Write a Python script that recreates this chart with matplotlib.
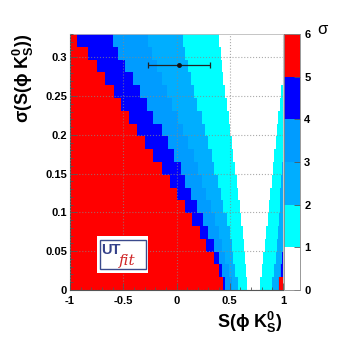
import numpy as np
import matplotlib
matplotlib.use('Agg')
import matplotlib.pyplot as plt
from matplotlib.colors import ListedColormap, BoundaryNorm
from matplotlib.patches import Rectangle
from matplotlib.ticker import MultipleLocator

plt.rcParams['font.family'] = ['Liberation Sans', 'DejaVu Sans']
plt.rcParams['mathtext.default'] = 'regular'

# sigma(S) bins (20 rows from 0 to 0.33), values read row by row from the top
sigma_edges = np.linspace(0, 0.33, 21)

# x where the significance drops below 5,4,3,2,1 sigma (left side), top row first
s5 = [-0.93, -0.83, -0.75, -0.67, -0.59, -0.52, -0.45, -0.37, -0.30, -0.22,
      -0.14, -0.06, 0.00, 0.08, 0.15, 0.22, 0.28, 0.35, 0.40, 0.44]
s4 = [-0.60, -0.55, -0.48, -0.41, -0.34, -0.28, -0.22, -0.14, -0.08, -0.02,
      0.04, 0.08, 0.14, 0.19, 0.25, 0.30, 0.35, 0.40, 0.43, 0.455]
s3 = [-0.27, -0.23, -0.18, -0.14, -0.09, -0.04, 0.01, 0.06, 0.11, 0.16,
      0.20, 0.24, 0.28, 0.32, 0.36, 0.40, 0.43, 0.46, 0.49, 0.52]
s2 = [0.06, 0.08, 0.11, 0.14, 0.16, 0.19, 0.24, 0.27, 0.30, 0.33,
      0.35, 0.39, 0.42, 0.44, 0.47, 0.50, 0.52, 0.53, 0.55, 0.58]
s1 = [0.40, 0.415, 0.425, 0.44, 0.455, 0.47, 0.495, 0.50, 0.52, 0.535,
      0.55, 0.565, 0.58, 0.595, 0.605, 0.62, 0.635, 0.645, 0.655, 0.66]
# x where it rises again above 1,2,3,4,5 sigma (right side)
r1 = [1.01, 1.01, 1.01, 1.01, 0.985, 0.97, 0.955, 0.94, 0.935, 0.915,
      0.905, 0.895, 0.88, 0.87, 0.855, 0.845, 0.83, 0.815, 0.80, 0.785]
r2 = [1.01, 1.01, 1.01, 1.01, 1.01, 1.01, 1.01, 1.01, 1.01, 1.01,
      0.99, 0.985, 0.975, 0.97, 0.96, 0.95, 0.94, 0.93, 0.915, 0.895]
r3 = [1.01, 1.01, 1.01, 1.01, 1.01, 1.01, 1.01, 1.01, 1.01, 1.01,
      1.01, 1.01, 1.01, 1.01, 1.01, 1.01, 1.01, 1.01, 0.975, 0.95]
r4 = [1.01, 1.01, 1.01, 1.01, 1.01, 1.01, 1.01, 1.01, 1.01, 1.01,
      1.01, 1.01, 1.01, 1.01, 1.01, 1.01, 1.01, 0.99, 0.98, 0.96]
r5 = [1.01, 1.01, 1.01, 1.01, 1.01, 1.01, 1.01, 1.01, 1.01, 1.01,
      1.01, 1.01, 1.01, 1.01, 1.01, 1.01, 1.01, 1.01, 1.01, 0.965]

# measurement
S_meas = 0.02
S_err = 0.29

level_colors = ['#FFFFFF', '#00FFFF', '#00AEFF', '#009CFF', '#0000FF', '#FF0000']

x_edges = np.linspace(-1, 1, 401)
xc = 0.5 * (x_edges[1:] + x_edges[:-1])
Z = np.zeros((20, len(xc)))
for i in range(20):
    lv = np.zeros(len(xc))
    for k, (l, r) in enumerate(zip([s1, s2, s3, s4, s5], [r1, r2, r3, r4, r5])):
        lv[xc < l[i]] = k + 1
        lv[xc > r[i]] = k + 1
    Z[19 - i] = lv + 0.5

cmap = ListedColormap(level_colors)
norm = BoundaryNorm(np.arange(7), cmap.N)

fig = plt.figure(figsize=(3.54, 3.42), dpi=100)
ax = fig.add_axes([70 / 354, 1 - 290 / 342, 213 / 354, 256 / 342])
cax = fig.add_axes([284 / 354, 1 - 290 / 342, 16 / 354, 256 / 342])

mesh = ax.pcolormesh(x_edges, sigma_edges, Z, cmap=cmap, norm=norm)
ax.set_xlim(-1, 1)
ax.set_ylim(0, 0.33)

ax.xaxis.set_minor_locator(MultipleLocator(0.1))
ax.yaxis.set_minor_locator(MultipleLocator(0.01))
ax.tick_params(which='both', direction='in', color='#555555', width=0.6)
ax.tick_params(which='major', length=5)
ax.tick_params(which='minor', length=2.5)
ax.tick_params(labelsize=8)
ax.set_xticks([-1, -0.5, 0, 0.5, 1])
ax.set_xticklabels(['-1', '-0.5', '0', '0.5', '1'], fontweight='bold')
ax.set_yticks([0, 0.05, 0.1, 0.15, 0.2, 0.25, 0.3])
ax.set_yticklabels(['0', '0.05', '0.1', '0.15', '0.2', '0.25', '0.3'], fontweight='bold')
ax.tick_params(axis='x', pad=4)
ax.tick_params(axis='y', pad=2)
ax.grid(True, which='major', color='#888888', linestyle=':', linewidth=0.8, alpha=0.7)
ax.set_axisbelow(False)
for side in ['top', 'right']:
    ax.spines[side].set_color('#bbbbbb')
    ax.spines[side].set_linewidth(0.6)
for side in ['left', 'bottom']:
    ax.spines[side].set_color('#555555')
    ax.spines[side].set_linewidth(0.8)

ax.errorbar(S_meas, S_err, xerr=S_err, fmt='o', ms=2.5, color='#111111',
            ecolor='#222222', elinewidth=0.9, capsize=2, capthick=0.9, zorder=5)

# UTfit logo
ax.add_patch(Rectangle((-0.75, 0.022), 0.485, 0.048, facecolor='white',
                       edgecolor='none', zorder=6))
ax.add_patch(Rectangle((-0.72, 0.027), 0.43, 0.037, facecolor='none',
                       edgecolor='#3b4a8c', linewidth=1.0, zorder=7))
ax.text(-0.71, 0.0515, 'UT', color='#34418a', fontsize=10.5, fontweight='bold',
        va='center', ha='left', zorder=8)
ax.text(-0.54, 0.0375, 'fit', color='#d0282a', fontsize=11, style='italic',
        family='DejaVu Serif', va='center', ha='left', zorder=8)

cb = fig.colorbar(mesh, cax=cax, ticks=range(7))
cb.outline.set_edgecolor('#888888')
cb.outline.set_linewidth(0.6)
cax.tick_params(direction='in', length=4, width=0.6, color='#555555', labelsize=8, pad=3)
for t in cax.get_yticklabels():
    t.set_fontweight('bold')
fig.text(317 / 354, 1 - 30 / 342, 'σ', fontsize=12, ha='left', va='center')

fig.text(283 / 354, 1 - 322 / 342, 'S(ϕ K$_S^0$)', fontsize=13, fontweight='bold',
         ha='right', va='center')
fig.text(23 / 354, 1 - 33 / 342, 'σ(S(ϕ K$_S^0$))', fontsize=13, fontweight='bold',
         rotation=90, ha='center', va='top')

fig.savefig('out.png', dpi=100)
